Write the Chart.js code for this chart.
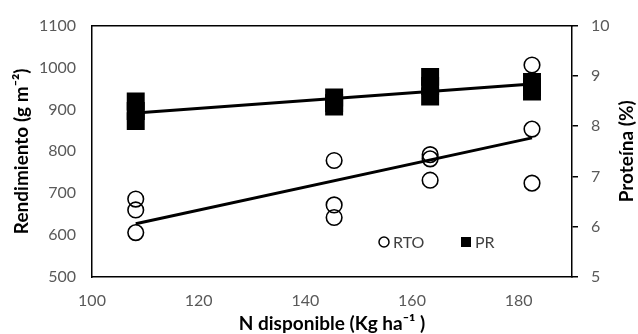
<!DOCTYPE html>
<html>
<head>
<meta charset="utf-8">
<script src="https://cdn.jsdelivr.net/npm/chart.js@4.4.1/dist/chart.umd.min.js"></script>
<style>
  html, body { margin: 0; padding: 0; background: #fff; }
  #wrap { width: 638px; height: 334px; }
</style>
</head>
<body>
<div id="wrap"><canvas id="c" width="638" height="334"></canvas></div>
<script>
// ---- data ----
const nGroups = [108.2, 145.4, 163.4, 182.5];           // N disponible (Kg ha-1)
const rtoValues = [                                       // Rendimiento (g m-2), 3 reps per group
  [686, 660, 606],
  [778, 672, 642],
  [792, 782, 731],
  [1006, 853, 724]
];
const prValues = [                                        // Proteína (%), 3 reps per group
  [8.49, 8.30, 8.10],
  [8.57, 8.46, 8.39],
  [8.98, 8.80, 8.59],
  [8.88, 8.78, 8.69]
];
const rtoTrendX = [108.2, 182.5];
const rtoTrendY = [627, 832];
const prTrendX = [108.2, 182.5];
const prTrendY = [8.26, 8.84];
const xTicks = [100, 120, 140, 160, 180];
const seriesLabels = ['RTO', 'PR'];

// ---- build library structures ----
const rtoPoints = [];
nGroups.forEach((x, i) => rtoValues[i].forEach(v => rtoPoints.push({x: x, y: v})));
const prPoints = [];
nGroups.forEach((x, i) => prValues[i].forEach(v => prPoints.push({x: x, y: v})));
const rtoTrend = rtoTrendX.map((x, i) => ({x: x, y: rtoTrendY[i]}));
const prTrend = prTrendX.map((x, i) => ({x: x, y: prTrendY[i]}));

const FONT = 'Lato, "Open Sans", sans-serif';
const TICK_COLOR = '#595959';
const TICK_SIZE = 16;
const TITLE_SIZE = 19;
const plain = v => String(v);

const legendPlugin = {
  id: 'insideLegend',
  afterDraw(chart) {
    const ctx = chart.ctx;
    ctx.save();
    ctx.font = TICK_SIZE + 'px ' + FONT;
    ctx.fillStyle = '#404040';
    ctx.textBaseline = 'middle';
    ctx.textAlign = 'left';
    // RTO item
    ctx.beginPath();
    ctx.arc(384, 242, 5, 0, Math.PI * 2);
    ctx.lineWidth = 1.5;
    ctx.strokeStyle = '#000';
    ctx.stroke();
    ctx.fillText(seriesLabels[0], 393, 243);
    // PR item
    ctx.fillStyle = '#000';
    ctx.fillRect(461, 237, 10, 10);
    ctx.fillStyle = '#404040';
    ctx.fillText(seriesLabels[1], 475, 243);
    ctx.restore();
  }
};

const rightTitlePlugin = {
  id: 'rightTitle',
  afterDraw(chart) {
    const ctx = chart.ctx;
    const a = chart.chartArea;
    ctx.save();
    ctx.translate(627, (a.top + a.bottom) / 2);
    ctx.rotate(-Math.PI / 2);
    ctx.font = 'bold ' + TITLE_SIZE + 'px ' + FONT;
    ctx.fillStyle = '#000';
    ctx.textAlign = 'center';
    ctx.textBaseline = 'middle';
    ctx.fillText('Proteína (%)', 0, 0);
    ctx.restore();
  }
};

new Chart(document.getElementById('c'), {
  type: 'scatter',
  data: {
    datasets: [
      {
        label: 'RTO trend', type: 'line', data: rtoTrend, yAxisID: 'y',
        borderColor: '#000', borderWidth: 3, pointRadius: 0, fill: false
      },
      {
        label: 'PR trend', type: 'line', data: prTrend, yAxisID: 'y2',
        borderColor: '#000', borderWidth: 3, pointRadius: 0, fill: false
      },
      {
        label: seriesLabels[0], data: rtoPoints, yAxisID: 'y',
        pointStyle: 'circle', pointRadius: 7.8, pointBorderWidth: 1.6,
        pointBorderColor: '#000', pointBackgroundColor: 'rgba(0,0,0,0)'
      },
      {
        label: seriesLabels[1], data: prPoints, yAxisID: 'y2',
        pointStyle: 'rect', pointRadius: 12.7, pointBorderWidth: 0,
        pointBorderColor: '#000', pointBackgroundColor: '#000'
      }
    ]
  },
  options: {
    responsive: false,
    animation: false,
    devicePixelRatio: 1,
    layout: { padding: 0 },
    plugins: { legend: { display: false }, tooltip: { enabled: false } },
    scales: {
      x: {
        type: 'linear', position: 'bottom', min: 100, max: 190,
        afterBuildTicks: s => { s.ticks = xTicks.map(v => ({value: v})); },
        afterFit: s => { s.height = 57; },
        grid: { display: false, drawTicks: false },
        border: { display: true, color: '#000', width: 1.5 },
        ticks: { color: TICK_COLOR, font: { family: FONT, size: TICK_SIZE }, padding: 14, maxRotation: 0, autoSkip: false, callback: plain },
        title: {
          display: true, text: 'N disponible (Kg ha\u207B\u00B9 )', color: '#000',
          font: { family: FONT, size: TITLE_SIZE, weight: 'bold', lineHeight: 1 },
          padding: { top: 0, bottom: 0.5 }
        }
      },
      xTop: {
        type: 'linear', position: 'top', min: 100, max: 190,
        afterFit: s => { s.height = 22; },
        grid: { display: false, drawTicks: false },
        border: { display: true, color: '#000', width: 1.5 },
        ticks: { display: false }
      },
      y: {
        type: 'linear', position: 'left', min: 500, max: 1100,
        afterFit: s => { s.width = 92; },
        grid: { display: false, drawTicks: false },
        border: { display: true, color: '#000', width: 1.5 },
        ticks: { stepSize: 100, color: TICK_COLOR, font: { family: FONT, size: TICK_SIZE }, padding: 16, callback: plain },
        title: {
          display: true, text: 'Rendimiento (g m\u207B\u00B2)', color: '#000',
          font: { family: FONT, size: TITLE_SIZE, weight: 'bold', lineHeight: 1 },
          padding: { top: 12.5, bottom: 0 }
        }
      },
      y2: {
        type: 'linear', position: 'right', min: 5, max: 10,
        afterFit: s => { s.width = 66; },
        grid: { display: true, drawOnChartArea: false, drawTicks: true, tickLength: 6, color: '#000', lineWidth: 1.5 },
        border: { display: true, color: '#000', width: 1.5 },
        ticks: { stepSize: 1, color: TICK_COLOR, font: { family: FONT, size: TICK_SIZE }, padding: 13, callback: plain }
      }
    }
  },
  plugins: [legendPlugin, rightTitlePlugin]
});
</script>
</body>
</html>
